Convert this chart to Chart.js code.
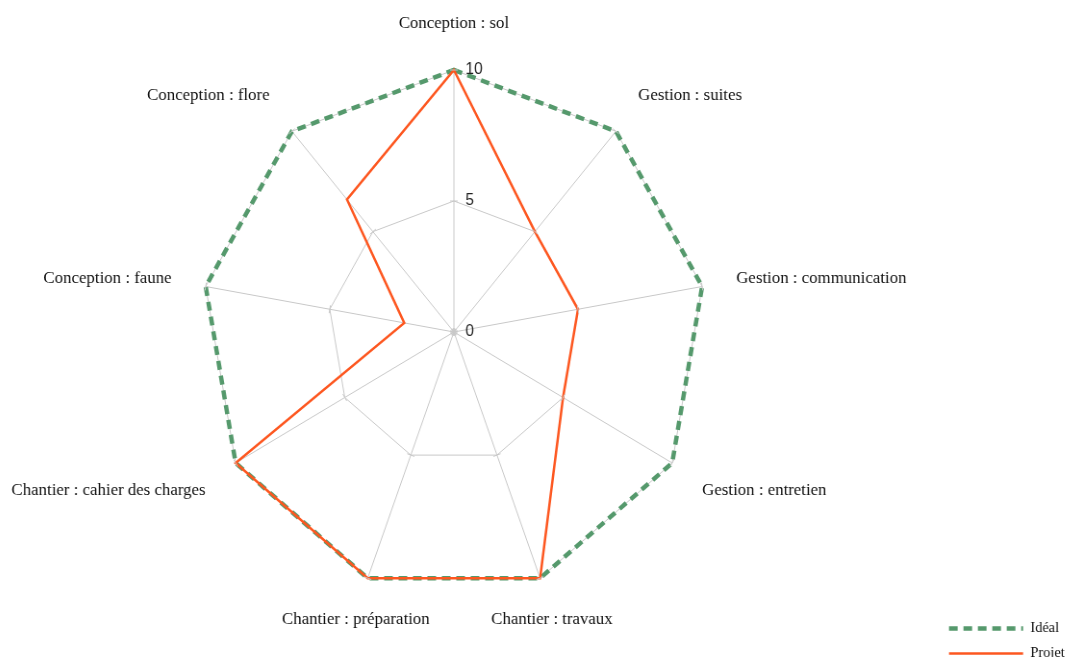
<!DOCTYPE html>
<html>
<head>
<meta charset="utf-8">
<script src="https://cdn.jsdelivr.net/npm/chart.js@4.4.1/dist/chart.umd.min.js"></script>
<style>
  html, body { margin: 0; padding: 0; background: #fff; overflow: hidden; }
  #wrap { width: 1065px; height: 657px; overflow: hidden; position: relative; }
  /* the source picture is a little squeezed horizontally; plot also sits left of the legend's centre */
  #radar { position: absolute; left: -29.6px; top: 0; transform: scaleX(0.962); transform-origin: 0 0; }
</style>
</head>
<body>
<div id="wrap"><canvas id="radar" width="1148" height="680" style="width:1148px;height:680px"></canvas></div>
<script>
// Chart data
const categories = [
  'Conception : sol',
  'Gestion : suites',
  'Gestion : communication',
  'Gestion : entretien',
  'Chantier : travaux',
  'Chantier : préparation',
  'Chantier : cahier des charges',
  'Conception : faune',
  'Conception : flore'
];
const idealValues = [10, 10, 10, 10, 10, 10, 10, 10, 10];
const projetValues = [10, 5, 5, 5, 10, 10, 10, 2, 6.6];
const tickValues = [0, 5, 10];

const GRID = '#c8c8c8';
const SERIF = '"Liberation Serif", "Times New Roman", serif';

// category labels, placed like the original (bottom ones centred)
const labelPlugin = {
  id: 'categoryLabels',
  afterDraw(chart) {
    const scale = chart.scales.r;
    const ctx = chart.ctx;
    ctx.save();
    ctx.fillStyle = '#111';
    ctx.font = '17.5px ' + SERIF;
    ctx.textBaseline = 'middle';
    categories.forEach((label, i) => {
      const a = scale.getIndexAngle(i);
      const p = scale.getPointPosition(i, scale.drawingArea + 36);
      const s = Math.sin(a), c = Math.cos(a);
      const dy = c >= 0 ? -c * 11 : (Math.abs(s) > 0.5 ? 9 : 7);
      ctx.textAlign = s > 0.5 ? 'left' : (s < -0.5 ? 'right' : 'center');
      ctx.fillText(label, p.x, p.y + dy);
    });
    ctx.restore();
  }
};

// value labels right of the top spoke + small tick marks on each spoke
const tickPlugin = {
  id: 'spokeTicks',
  afterDatasetsDraw(chart) {
    const scale = chart.scales.r;
    const ctx = chart.ctx;
    ctx.save();
    ctx.strokeStyle = GRID;
    ctx.lineWidth = 1;
    tickValues.forEach(v => {
      for (let i = 0; i < categories.length; i++) {
        const p = scale.getPointPositionForValue(i, v);
        const a = scale.getIndexAngle(i);
        const dx = Math.cos(a) * 4, dy = Math.sin(a) * 4;
        ctx.beginPath();
        ctx.moveTo(p.x - dx, p.y - dy);
        ctx.lineTo(p.x + dx, p.y + dy);
        ctx.stroke();
      }
    });
    ctx.fillStyle = '#222';
    ctx.font = '16px "Liberation Sans", Arial, sans-serif';
    ctx.textAlign = 'left';
    ctx.textBaseline = 'middle';
    tickValues.forEach(v => {
      const p = scale.getPointPositionForValue(0, v);
      ctx.fillText(String(v), p.x + 12, p.y);
    });
    ctx.restore();
  }
};

new Chart(document.getElementById('radar'), {
  type: 'radar',
  data: {
    labels: categories,
    datasets: [
      {
        label: 'Idéal',
        data: idealValues,
        borderColor: '#55996c',
        backgroundColor: '#55996c',
        borderWidth: 4.5,
        borderDash: [9, 6],
        fill: false,
        pointRadius: 0,
        order: 1
      },
      {
        label: 'Projet',
        data: projetValues,
        borderColor: '#fd5720',
        backgroundColor: '#fd5720',
        borderWidth: 2.5,
        fill: false,
        pointRadius: 0,
        order: 0
      }
    ]
  },
  options: {
    responsive: false,
    animation: false,
    layout: { padding: { top: 70, bottom: 9, left: 0, right: 0 } },
    plugins: {
      tooltip: { enabled: false },
      // empty bottom title only reserves room so the legend sits lower than the plot
      title: {
        display: true,
        position: 'bottom',
        text: ' ',
        font: { size: 10 },
        padding: { top: 65, bottom: 0 }
      },
      legend: {
        position: 'right',
        align: 'end',
        labels: {
          usePointStyle: true,
          pointStyle: 'line',
          pointStyleWidth: 77,
          padding: 10,
          color: '#111',
          font: { family: SERIF, size: 15 },
          sort: (a, b) => a.datasetIndex - b.datasetIndex,
          generateLabels(chart) {
            const items = Chart.defaults.plugins.legend.labels.generateLabels(chart);
            items.forEach(item => {
              const ds = chart.data.datasets[item.datasetIndex];
              item.lineDash = ds.borderDash || [];
              item.lineWidth = ds.borderWidth;
              item.strokeStyle = ds.borderColor;
            });
            return items;
          }
        }
      }
    },
    scales: {
      r: {
        min: 0,
        max: 10,
        ticks: { stepSize: 5, display: false },
        grid: { color: GRID, lineWidth: 1 },
        angleLines: { color: GRID, lineWidth: 1 },
        pointLabels: { display: false }
      }
    }
  },
  plugins: [tickPlugin, labelPlugin]
});
</script>
</body>
</html>
